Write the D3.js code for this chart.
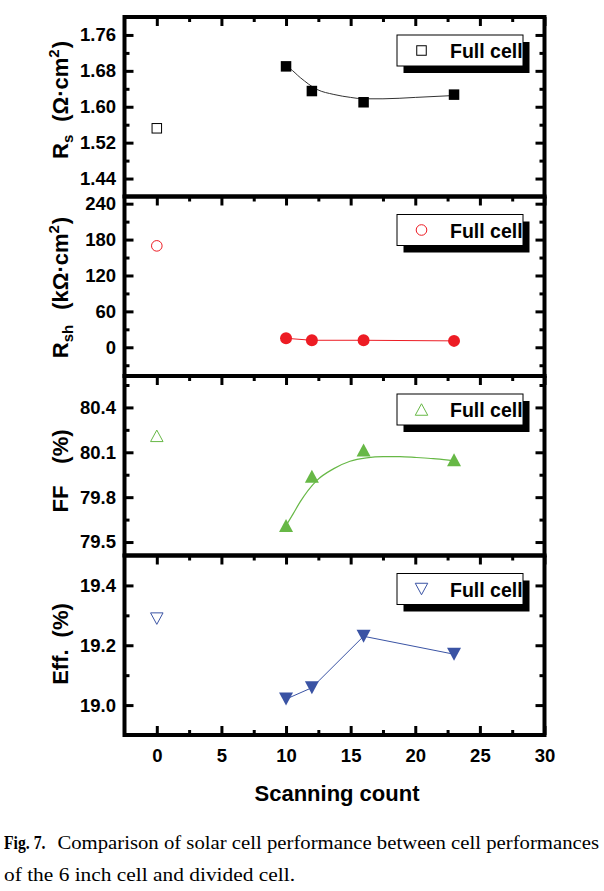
<!DOCTYPE html>
<html><head><meta charset="utf-8">
<script src="https://cdn.jsdelivr.net/npm/d3@7"></script>
<style>
body{margin:0;background:#fff}
svg{display:block}
</style>
</head><body><svg id="c" width="604" height="891" font-family="'Liberation Sans',Arial,sans-serif"></svg>
<script>
// ---------------- data ----------------
const xMajor = [0, 5, 10, 15, 20, 25, 30];
const xMinor = [2.5, 7.5, 12.5, 17.5, 22.5, 27.5];
const fullX = [0];
const scanX = [10, 12, 16, 23];

const rsFull = [1.552];
const rsScan = [1.690, 1.635, 1.610, 1.627];
const rsFitX = [10, 10.3, 11.1, 12.4, 13.7, 15, 16, 17.5, 20, 23];
const rsFitY = [1.690, 1.685, 1.665, 1.6385, 1.6274, 1.6208, 1.6177, 1.6177, 1.6208, 1.625];

const rshFull = [169.5];
const rshScan = [15, 11.7, 11.7, 10.7];

const ffFull = [80.21];
const ffScan = [79.61, 79.94, 80.115, 80.05];
const ffFitX = [10, 10.56, 11.08, 12.37, 13.66, 14.95, 16.23, 17.52, 18.81, 20.1, 21.39, 22.8, 23];
const ffFitY = [79.61, 79.69, 79.767, 79.911, 79.989, 80.04, 80.063, 80.071, 80.071, 80.065, 80.058, 80.045, 80.043];

const effFull = [19.289];
const effScan = [19.02, 19.058, 19.23, 19.17];

const rsTicks = [1.44, 1.52, 1.60, 1.68, 1.76];
const rsMinor = [1.48, 1.56, 1.64, 1.72];
const rshTicks = [0, 60, 120, 180, 240];
const rshMinor = [-30, 30, 90, 150, 210];
const ffTicks = [79.5, 79.8, 80.1, 80.4];
const ffMinor = [79.65, 79.95, 80.25, 80.55];
const effTicks = [19.0, 19.2, 19.4];
const effMinor = [19.1, 19.3];

const legendLabel = "Full cell";
const xTitle = "Scanning count";
const captionBold = "Fig. 7.";
const captionLine1 = "Comparison of solar cell performance between cell performances";
const captionLine2 = "of the 6 inch cell and divided cell.";

// ---------------- layout ----------------
const svg = d3.select("#c");
const L = 124.5, R = 544.5, PH = 179.5;
const x = d3.scaleLinear().domain([-2.5, 30]).range([L, R]);

const panels = [
  {top: 17, domain: [1.40, 1.80], ticks: rsTicks, minor: rsMinor, fmt: d3.format(".2f"),
   color: "#000", lineColor: "#333", lineW: 1, sym: "square",
   full: rsFull, scan: rsScan, fitX: rsFitX, fitY: rsFitY, smooth: true,
   labelCY: 100, label: [
     {t: "R", s: 22}, {t: "s", s: 15, dy: 5}, {t: "(Ω·cm", s: 22, dy: -5, dx: 13},
     {t: "2", s: 15, dy: -9}, {t: ")", s: 22, dy: 9, dx: 1}]},
  {top: 196.5, domain: [-48, 252], ticks: rshTicks, minor: rshMinor, fmt: d3.format("d"),
   color: "#ED1C24", lineColor: "#ED1C24", lineW: 1, sym: "circle",
   full: rshFull, scan: rshScan, fitX: scanX, fitY: rshScan, smooth: false,
   labelCY: 287.5, label: [
     {t: "R", s: 22}, {t: "sh", s: 15, dy: 5}, {t: "(kΩ·cm", s: 22, dy: -5, dx: 15},
     {t: "2", s: 15, dy: -9}, {t: ")", s: 22, dy: 9, dx: 1}]},
  {top: 376, domain: [79.41, 80.61], ticks: ffTicks, minor: ffMinor, fmt: d3.format(".1f"),
   color: "#67B846", lineColor: "#67B846", lineW: 1.2, sym: "up",
   full: ffFull, scan: ffScan, fitX: ffFitX, fitY: ffFitY, smooth: true,
   labelCY: 471, label: [{t: "FF", s: 22}, {t: "(%)", s: 22, dx: 22}]},
  {top: 555.5, domain: [18.9, 19.5], ticks: effTicks, minor: effMinor, fmt: d3.format(".1f"),
   color: "#3A53A4", lineColor: "#3A53A4", lineW: 1, sym: "down",
   full: effFull, scan: effScan, fitX: scanX, fitY: effScan, smooth: false,
   labelCY: 644, label: [{t: "Eff.", s: 22}, {t: "(%)", s: 22, dx: 12}]}
];

function marker(g, type, cx, cy, filled, color) {
  const fill = filled ? color : "#fff";
  const sw = filled ? 0 : 1;
  if (type === "square") {
    const s = filled ? 10.5 : 9.5;
    g.append("rect").attr("x", cx - s / 2).attr("y", cy - s / 2).attr("width", s).attr("height", s)
      .attr("fill", fill).attr("stroke", color).attr("stroke-width", sw);
  } else if (type === "circle") {
    g.append("circle").attr("cx", cx).attr("cy", cy).attr("r", filled ? 6 : 5.3)
      .attr("fill", fill).attr("stroke", color).attr("stroke-width", filled ? 0 : 1);
  } else {
    const w = filled ? 14 : 12.5, h = filled ? 13 : 11.5;
    const p = d3.path();
    if (type === "up") {
      p.moveTo(cx, cy - h / 2); p.lineTo(cx + w / 2, cy + h / 2); p.lineTo(cx - w / 2, cy + h / 2);
    } else {
      p.moveTo(cx, cy + h / 2); p.lineTo(cx + w / 2, cy - h / 2); p.lineTo(cx - w / 2, cy - h / 2);
    }
    p.closePath();
    g.append("path").attr("d", p.toString()).attr("fill", fill).attr("stroke", color).attr("stroke-width", sw);
  }
}

function styleAxis(g) {
  g.select(".domain").remove();
  g.selectAll(".tick line").attr("stroke", "#000").attr("stroke-width", 3);
  g.attr("font-family", "'Liberation Sans',Arial,sans-serif").attr("font-size", 18.5);
  g.selectAll("text").attr("fill", "#000").attr("font-weight", "bold");
}

panels.forEach((p, i) => {
  const y = d3.scaleLinear().domain(p.domain).range([p.top + PH, p.top]);
  const g = svg.append("g");

  const line = d3.line().x(d => x(d[0])).y(d => y(d[1]))
    .curve(p.smooth ? d3.curveMonotoneX : d3.curveLinear);
  g.append("path").attr("d", line(p.fitX.map((v, k) => [v, p.fitY[k]])))
    .attr("fill", "none").attr("stroke", p.lineColor).attr("stroke-width", p.lineW);

  p.full.forEach((v, k) => marker(g, p.sym, x(fullX[k]), y(v), false, p.color));
  p.scan.forEach((v, k) => marker(g, p.sym, x(scanX[k]), y(v), true, p.color));

  svg.append("g").attr("transform", `translate(${L},0)`)
    .call(d3.axisLeft(y).tickValues(p.ticks).tickSizeInner(-9).tickSizeOuter(0).tickPadding(8.5).tickFormat(p.fmt))
    .call(styleAxis);
  svg.append("g").attr("transform", `translate(${L},0)`)
    .call(d3.axisLeft(y).tickValues(p.minor).tickSizeInner(-5).tickSizeOuter(0).tickFormat(() => ""))
    .call(styleAxis);
  svg.append("g").attr("transform", `translate(${R},0)`)
    .call(d3.axisRight(y).tickValues(p.ticks).tickSizeInner(-9).tickSizeOuter(0).tickFormat(() => ""))
    .call(styleAxis);
  svg.append("g").attr("transform", `translate(${R},0)`)
    .call(d3.axisRight(y).tickValues(p.minor).tickSizeInner(-5).tickSizeOuter(0).tickFormat(() => ""))
    .call(styleAxis);
  svg.append("g").attr("transform", `translate(0,${p.top})`)
    .call(d3.axisTop(x).tickValues(xMajor).tickSizeInner(-9).tickSizeOuter(0).tickFormat(() => ""))
    .call(styleAxis);
  svg.append("g").attr("transform", `translate(0,${p.top})`)
    .call(d3.axisTop(x).tickValues(xMinor).tickSizeInner(-5).tickSizeOuter(0).tickFormat(() => ""))
    .call(styleAxis);
  if (i === panels.length - 1) {
    svg.append("g").attr("transform", `translate(0,${p.top + PH})`)
      .call(d3.axisBottom(x).tickValues(xMajor).tickSizeInner(-9).tickSizeOuter(0).tickPadding(13.4).tickFormat(d3.format("d")))
      .call(styleAxis);
    svg.append("g").attr("transform", `translate(0,${p.top + PH})`)
      .call(d3.axisBottom(x).tickValues(xMinor).tickSizeInner(-5).tickSizeOuter(0).tickFormat(() => ""))
      .call(styleAxis);
  }

  const lx = 397, ly = p.top + 18, lw = 126, lh = 31;
  svg.append("rect").attr("x", lx + 6.5).attr("y", ly + 7).attr("width", lw).attr("height", lh).attr("fill", "#000");
  svg.append("rect").attr("x", lx).attr("y", ly).attr("width", lw).attr("height", lh)
    .attr("fill", "#fff").attr("stroke", "#000").attr("stroke-width", 1);
  marker(svg, p.sym, lx + 24.5, ly + 15.5, false, p.color);
  svg.append("text").attr("x", lx + 53).attr("y", ly + 23).attr("font-size", 19.5)
    .attr("font-weight", "bold").attr("fill", "#000").text(legendLabel);

  svg.append("rect").attr("x", L).attr("y", p.top).attr("width", R - L).attr("height", PH)
    .attr("fill", "none").attr("stroke", "#000").attr("stroke-width", 4);

  const t = svg.append("text").attr("transform", `translate(67.7,${p.labelCY}) rotate(-90)`)
    .attr("text-anchor", "middle").attr("font-weight", "bold").attr("fill", "#000");
  p.label.forEach(s => {
    const ts = t.append("tspan").attr("font-size", s.s).text(s.t);
    if (s.dy) ts.attr("dy", s.dy);
    if (s.dx) ts.attr("dx", s.dx);
  });
});

svg.append("text").attr("x", 337).attr("y", 800.5).attr("text-anchor", "middle")
  .attr("font-size", 22).attr("font-weight", "bold").attr("fill", "#000").text(xTitle);

const serif = "'Liberation Serif','Times New Roman',serif";
svg.append("text").attr("x", 4).attr("y", 848.5).style("font-family", serif).attr("font-size", 19.5)
  .attr("font-weight", "bold").attr("textLength", 41.5).attr("lengthAdjust", "spacingAndGlyphs").text(captionBold);
svg.append("text").attr("x", 57.4).attr("y", 848.5).style("font-family", serif).attr("font-size", 19.5)
  .attr("textLength", 541.6).attr("lengthAdjust", "spacingAndGlyphs").text(captionLine1);
svg.append("text").attr("x", 4).attr("y", 881).style("font-family", serif).attr("font-size", 19.5)
  .attr("textLength", 291).attr("lengthAdjust", "spacingAndGlyphs").text(captionLine2);
</script>
</body></html>
